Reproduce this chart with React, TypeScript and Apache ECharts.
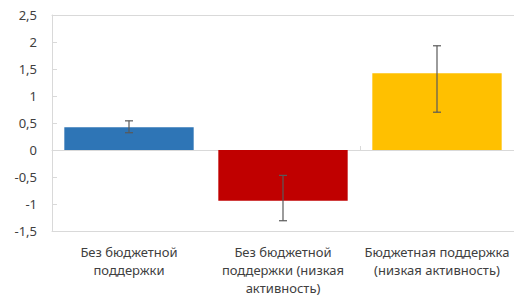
import React, { useEffect, useRef } from "react";
import * as echarts from "echarts";

const categories = [
  "Без бюджетной\nподдержки",
  "Без бюджетной\nподдержки (низкая\nактивность)",
  "Бюджетная поддержка\n(низкая активность)",
];
const values = [0.42, -0.94, 1.42];
const errLow = [0.32, -1.31, 0.7];
const errHigh = [0.54, -0.47, 1.93];
const colors = ["#2E75B6", "#C00000", "#FFC000"];
const yTicks = { min: -1.5, max: 2.5, interval: 0.5 };

export default function App() {
  const ref = useRef<HTMLDivElement>(null);
  useEffect(() => {
    if (!ref.current) return;
    const chart = echarts.init(ref.current, null, { renderer: "svg" });
    const lineColor = "#D9D9D9";
    const font = "'Noto Sans', sans-serif";
    chart.setOption({
      animation: false,
      grid: { left: 52, right: 0, top: 15, bottom: 65 },
      xAxis: [
        {
          type: "category",
          data: categories,
          position: "bottom",
          axisLine: { onZero: false, lineStyle: { color: lineColor } },
          axisTick: { show: false },
          axisLabel: {
            interval: 0,
            margin: 12,
            color: "#404040",
            fontSize: 13,
            fontFamily: font,
            lineHeight: 18,
          },
        },
        {
          type: "category",
          data: categories,
          position: "bottom",
          axisLine: { onZero: true, lineStyle: { color: lineColor } },
          axisTick: { show: true, inside: true, length: 4, lineStyle: { color: lineColor } },
          axisLabel: { show: false },
        },
        {
          type: "category",
          data: categories,
          position: "top",
          axisLine: { onZero: false, lineStyle: { color: lineColor } },
          axisTick: { show: false },
          axisLabel: { show: false },
        },
      ],
      yAxis: {
        type: "value",
        min: yTicks.min,
        max: yTicks.max,
        interval: yTicks.interval,
        axisLine: { show: true, lineStyle: { color: lineColor } },
        axisTick: { show: true, inside: true, length: 5, lineStyle: { color: lineColor } },
        splitLine: { show: false },
        axisLabel: {
          margin: 15,
          color: "#404040",
          fontSize: 13,
          fontFamily: font,
          formatter: (v: number) => String(v).replace(".", ","),
        },
      },
      series: [
        {
          type: "bar",
          xAxisIndex: 0,
          barCategoryGap: "16%",
          data: values.map((v, i) => ({ value: v, itemStyle: { color: colors[i] } })),
        },
        {
          type: "custom",
          xAxisIndex: 0,
          z: 10,
          data: values.map((_, i) => [i, errLow[i], errHigh[i]]),
          renderItem: (params: any, api: any) => {
            const x = api.value(0);
            const lo = api.coord([x, api.value(1)]);
            const hi = api.coord([x, api.value(2)]);
            const cx = lo[0];
            const hw = 4;
            const style = { stroke: "#595959", lineWidth: 1.2 };
            return {
              type: "group",
              children: [
                { type: "line", shape: { x1: cx, y1: lo[1], x2: cx, y2: hi[1] }, style },
                { type: "line", shape: { x1: cx - hw, y1: lo[1], x2: cx + hw, y2: lo[1] }, style },
                { type: "line", shape: { x1: cx - hw, y1: hi[1], x2: cx + hw, y2: hi[1] }, style },
              ],
            };
          },
        },
      ],
    });
    return () => chart.dispose();
  }, []);
  return <div ref={ref} style={{ width: 514, height: 297, position: "absolute", left: 0, top: 0 }} />;
}
